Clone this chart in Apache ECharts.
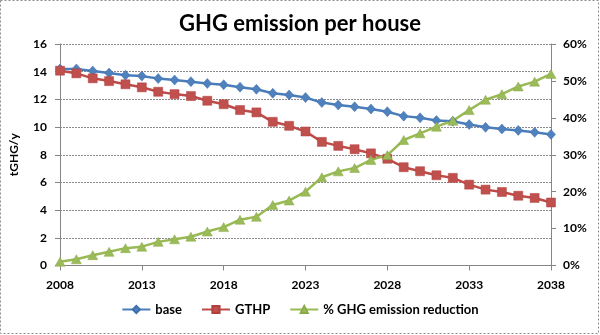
<!DOCTYPE html>
<html>
<head>
<meta charset="utf-8">
<script src="https://cdn.jsdelivr.net/npm/echarts@6/dist/echarts.min.js"></script>
<style>
  html, body { margin: 0; padding: 0; background: #fff; }
  #chart { width: 600px; height: 335px; }
</style>
</head>
<body>
<div id="chart"></div>
<script>
// Years on the horizontal axis
const years = [];
for (let y = 2008; y <= 2038; y++) years.push(String(y));

// Annual greenhouse gas emission per house, tonnes per year
const baseEmission = [14.2, 14.2, 14.05, 13.9, 13.75, 13.68, 13.5, 13.4, 13.28, 13.15,
  13.06, 12.88, 12.73, 12.44, 12.32, 12.13, 11.77, 11.6, 11.47, 11.3,
  11.11, 10.79, 10.67, 10.47, 10.42, 10.18, 9.98, 9.86, 9.76, 9.62, 9.47];

const gthpEmission = [14.07, 13.88, 13.52, 13.32, 13.09, 12.87, 12.55, 12.38, 12.24, 11.9,
  11.65, 11.23, 11.06, 10.38, 10.09, 9.68, 8.93, 8.64, 8.4, 8.1,
  7.71, 7.1, 6.81, 6.52, 6.33, 5.84, 5.48, 5.31, 5.04, 4.88, 4.55];

// Reduction in percent (right axis)
const reductionPct = [1.0, 1.7, 2.8, 3.7, 4.7, 5.1, 6.4, 7.1, 7.8, 9.2,
  10.4, 12.4, 13.2, 16.4, 17.6, 20.0, 23.9, 25.5, 26.4, 28.6,
  29.9, 34.0, 35.8, 37.6, 39.2, 42.1, 44.9, 46.4, 48.5, 49.8, 51.9];

const seriesNames = ['base', 'GTHP', '% GHG emission reduction'];
const titleText = 'GHG emission per house';
const leftAxisName = 'tGHG/y';

const FONT = 'Lato, "Open Sans", sans-serif';
const axisGray = '#868686';
const labelStyle = { color: '#000', fontFamily: FONT, fontWeight: 'bold', fontSize: 12 };

const chart = echarts.init(document.getElementById('chart'), null, { renderer: 'canvas' });

chart.setOption({
  animation: false,
  backgroundColor: '#fff',
  title: {
    text: titleText,
    left: 'center',
    top: 8,
    textStyle: { color: '#000', fontFamily: FONT, fontWeight: 'bold', fontSize: 22 }
  },
  graphic: [{
    type: 'rect',
    shape: { x: 0.5, y: 0.5, width: 598, height: 333 },
    style: { fill: 'none', stroke: '#8c8c8c', lineWidth: 1, lineDash: [2, 2] },
    silent: true
  }],
  grid: { left: 56, right: 49, top: 44, bottom: 69.5, containLabel: false },
  legend: {
    bottom: 14,
    left: 'center',
    itemWidth: 28,
    itemHeight: 9,
    itemGap: 19,
    textStyle: Object.assign({}, labelStyle, { fontSize: 13 }),
    data: seriesNames
  },
  xAxis: {
    type: 'category',
    data: years,
    boundaryGap: false,
    axisLine: { lineStyle: { color: axisGray, width: 1 } },
    axisTick: { interval: 4, length: 5, lineStyle: { color: axisGray } },
    axisLabel: Object.assign({ interval: 4, margin: 14 }, labelStyle),
    splitLine: { show: false }
  },
  yAxis: [{
    type: 'value',
    min: 0, max: 16, interval: 2,
    name: leftAxisName,
    nameLocation: 'middle',
    nameGap: 40,
    nameRotate: 90,
    nameTextStyle: labelStyle,
    axisLine: { show: true, lineStyle: { color: axisGray, width: 1 } },
    axisTick: { show: true, length: 5, lineStyle: { color: axisGray } },
    axisLabel: Object.assign({ margin: 13 }, labelStyle),
    splitLine: { show: true, lineStyle: { color: '#8a8a8a', width: 1, type: [2, 1] } }
  }, {
    type: 'value',
    min: 0, max: 60, interval: 10,
    position: 'right',
    axisLine: { show: true, lineStyle: { color: axisGray, width: 1 } },
    axisTick: { show: true, length: 5, lineStyle: { color: axisGray } },
    axisLabel: Object.assign({ margin: 12, formatter: '{value}%' }, labelStyle),
    splitLine: { show: false }
  }],
  series: [{
    name: seriesNames[0],
    type: 'line',
    yAxisIndex: 0,
    data: baseEmission,
    symbol: 'diamond',
    symbolSize: [9, 10],
    lineStyle: { color: '#4A7EBB', width: 2.5 },
    itemStyle: { color: '#4F81BD', borderColor: '#3F6FAE', borderWidth: 0.5 }
  }, {
    name: seriesNames[1],
    type: 'line',
    yAxisIndex: 0,
    data: gthpEmission,
    symbol: 'rect',
    symbolSize: 9,
    lineStyle: { color: '#BE4B48', width: 2.5 },
    itemStyle: { color: '#C0504D', borderColor: '#B0403D', borderWidth: 0.5 }
  }, {
    name: seriesNames[2],
    type: 'line',
    yAxisIndex: 1,
    data: reductionPct,
    symbol: 'triangle',
    symbolSize: [10, 9],
    lineStyle: { color: '#98B954', width: 2.5 },
    itemStyle: { color: '#9BBB59', borderColor: '#8AAA48', borderWidth: 0.5 }
  }]
});
</script>
</body>
</html>
